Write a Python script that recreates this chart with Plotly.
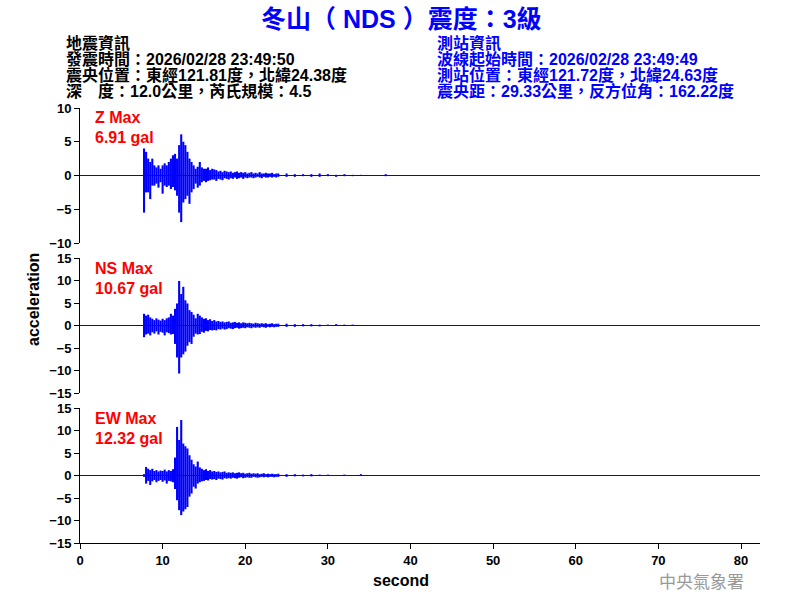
import plotly.graph_objects as go
from plotly.subplots import make_subplots

# ---------------- data ----------------
times = [7.75, 8.0, 8.25, 8.5, 8.75, 9.0, 9.25, 9.5, 9.75, 10.0, 10.25, 10.5,
         10.75, 11.0, 11.25, 11.5, 11.75, 12.0, 12.25, 12.5, 12.75, 13.0, 13.25,
         13.5, 13.75, 14.0, 14.25, 14.5, 14.75, 15.0, 15.25, 15.5, 15.75, 16.0,
         16.25, 16.5, 16.75, 17.0, 17.25, 17.5, 17.75, 18.0, 18.25, 18.5, 18.75,
         19.0, 19.25, 19.5, 19.75, 20.0, 20.25, 20.5, 20.75, 21.0, 21.25, 21.5,
         21.75, 22.0, 22.25, 22.5, 22.75, 23.0, 23.25, 23.5, 23.75, 24.0,
         25, 26, 27, 28, 29, 30, 31, 32, 33, 34, 35, 36, 37, 38]

z_hi = [4.0, 3.5, 2.5, 2.0, 2.5, 1.5, 1.2, 1.5, 1.0, 1.5, 1.8, 1.5, 2.0, 2.5, 3.0,
        3.2, 2.5, 4.5, 6.1, 5.0, 4.5, 3.5, 2.5, 2.0, 1.5, 1.0, 1.3, 2.0, 1.2, 1.0,
        1.0, 1.2, 0.8, 1.0,
        0.9, 0.8, 0.6, 0.7, 0.5, 0.7, 0.6, 0.5, 0.6, 0.4, 0.5, 0.6, 0.4, 0.5, 0.4, 0.5,
        0.3, 0.4, 0.5, 0.3, 0.4, 0.3, 0.5, 0.3, 0.3, 0.4, 0.3, 0.3, 0.4, 0.2, 0.3, 0.3,
        0.3, 0.2, 0.2, 0.2, 0.3, 0.2, 0.1, 0.2, 0.1, 0.1, 0.0, 0.0, 0.2, 0.0]
z_lo = [-5.5, -2.5, -2.5, -3.5, -1.5, -1.5, -1.2, -1.8, -1.0, -2.7, -1.5, -1.7,
        -1.5, -2.0, -1.7, -2.2, -3.0, -5.5, -6.91, -4.0, -3.5, -3.0, -4.2, -2.5,
        -2.0, -1.2, -1.8, -1.5, -1.0, -0.8, -1.0, -0.8, -0.7, -0.6,
        -0.6, -0.8, -0.5, -0.6, -0.7, -0.4, -0.5, -0.6, -0.4, -0.5, -0.3, -0.5,
        -0.4, -0.3, -0.5, -0.3, -0.4, -0.3, -0.3, -0.4, -0.3, -0.2, -0.3, -0.4,
        -0.2, -0.3, -0.3, -0.2, -0.3, -0.2, -0.3, -0.2,
        -0.2, -0.2, -0.1, -0.2, -0.2, -0.1, -0.2, -0.1, -0.1, 0.0, 0.0, 0.0, -0.1, 0.0]

ns_hi = [2.6, 2.2, 2.4, 1.8, 1.5, 1.2, 1.6, 1.3, 1.1, 1.5, 1.2, 1.6, 1.8, 2.6, 2.2,
         3.7, 4.9, 9.9, 7.0, 8.6, 5.6, 4.9, 3.4, 3.0, 2.4, 1.6, 2.6, 2.2, 1.8, 1.5,
         1.6, 1.2, 1.4, 1.0,
         1.2, 0.9, 1.0, 0.8, 0.9, 0.7, 0.8, 0.9, 0.6, 0.7, 0.8, 0.6, 0.7, 0.5, 0.7, 0.6,
         0.5, 0.6, 0.5, 0.4, 0.6, 0.5, 0.4, 0.5, 0.4, 0.5, 0.3, 0.4, 0.5, 0.3, 0.4, 0.4,
         0.4, 0.3, 0.3, 0.3, 0.2, 0.2, 0.3, 0.2, 0.2, 0.1, 0.0, 0.0, 0.0, 0.0]
ns_lo = [-2.6, -2.0, -1.8, -2.2, -1.5, -1.8, -1.3, -2.0, -1.4, -1.6, -2.2, -1.5,
         -1.7, -2.0, -1.9, -4.1, -7.1, -10.67, -7.1, -6.4, -5.8, -4.5, -3.7, -4.1,
         -2.5, -1.8, -2.0, -1.9, -1.4, -1.6, -1.2, -1.3, -1.0, -1.1,
         -1.0, -1.1, -0.8, -0.9, -0.7, -0.9, -0.8, -0.6, -0.7, -0.8, -0.6, -0.5,
         -0.7, -0.6, -0.5, -0.6, -0.4, -0.5, -0.6, -0.4, -0.5, -0.4, -0.5, -0.3,
         -0.4, -0.5, -0.3, -0.4, -0.3, -0.4, -0.3, -0.3,
         -0.3, -0.3, -0.2, -0.2, -0.2, -0.1, -0.1, -0.1, -0.1, 0.0, 0.0, 0.0, 0.0, 0.0]

ew_hi = [0.3, 1.9, 1.5, 1.2, 1.5, 1.0, 1.2, 0.9, 1.1, 1.0, 1.3, 0.9, 1.2, 1.0, 1.4,
         4.0, 10.8, 7.9, 12.32, 7.1, 6.5, 6.0, 4.5, 3.5, 2.5, 2.0, 3.1, 1.8, 1.5, 1.2,
         1.4, 1.0, 1.2, 0.9,
         1.0, 0.8, 0.9, 0.7, 0.8, 0.9, 0.6, 0.7, 0.6, 0.7, 0.5, 0.6, 0.7, 0.5, 0.6, 0.4,
         0.5, 0.6, 0.4, 0.5, 0.4, 0.5, 0.3, 0.4, 0.5, 0.3, 0.4, 0.3, 0.4, 0.3, 0.3, 0.4,
         0.3, 0.3, 0.2, 0.3, 0.2, 0.2, 0.1, 0.2, 0.1, 0.3, 0.0, 0.0, 0.0, 0.0]
ew_lo = [-0.3, -1.8, -1.2, -2.1, -1.3, -1.0, -1.5, -1.2, -1.0, -1.4, -1.1, -1.8,
         -1.2, -1.3, -1.5, -3.0, -5.5, -7.7, -8.8, -8.0, -7.5, -7.0, -4.7, -4.0,
         -2.5, -2.9, -1.8, -1.5, -1.3, -1.2, -1.0, -1.1, -0.8, -0.9,
         -0.8, -1.0, -0.7, -0.8, -0.9, -0.6, -0.7, -0.6, -0.7, -0.5, -0.6, -0.7,
         -0.5, -0.4, -0.6, -0.5, -0.4, -0.5, -0.5, -0.3, -0.4, -0.5, -0.4, -0.3,
         -0.4, -0.3, -0.4, -0.3, -0.3, -0.4, -0.3, -0.3,
         -0.3, -0.2, -0.2, -0.2, -0.1, -0.1, -0.1, -0.1, 0.0, 0.0, 0.0, 0.0, 0.0, 0.0]

channels = ["Z", "NS", "EW"]
max_labels = ["6.91 gal", "10.67 gal", "12.32 gal"]
y_ranges = [[-10, 10], [-15, 15], [-15, 15]]
y_ticks = [[-10, -5, 0, 5, 10], [-15, -10, -5, 0, 5, 10, 15], [-15, -10, -5, 0, 5, 10, 15]]
x_ticks = [0, 10, 20, 30, 40, 50, 60, 70, 80]
x_end = 82.3

title_text = "冬山（ NDS ）震度：3級"
left_info = ["地震資訊", "發震時間：2026/02/28 23:49:50",
             "震央位置：東經121.81度，北緯24.38度", "深　度：12.0公里，芮氏規模：4.5"]
right_info = ["測站資訊", "波線起始時間：2026/02/28 23:49:49",
              "測站位置：東經121.72度，北緯24.63度", "震央距：29.33公里，反方位角：162.22度"]

series = [(z_hi, z_lo), (ns_hi, ns_lo), (ew_hi, ew_lo)]
for hi, lo in series:
    assert len(hi) == len(times) and len(lo) == len(times), (len(hi), len(lo), len(times))

# ---------------- figure ----------------
FONT = "Liberation Sans, Arial, Noto Sans CJK TC, sans-serif"
BLUE = "#0000ff"

fig = make_subplots(rows=3, cols=1, shared_xaxes=True)

def segs(hi, lo):
    xs, ys = [], []
    for t, h, l in zip(times, hi, lo):
        xs += [t, t, None]
        ys += [l, h, None]
    return xs, ys

for i, (hi, lo) in enumerate(series):
    r = i + 1
    fig.add_trace(go.Scatter(x=[0, x_end], y=[0, 0], mode="lines",
                             line=dict(color=BLUE, width=1), hoverinfo="skip",
                             showlegend=False), row=r, col=1)
    xs, ys = segs(hi, lo)
    fig.add_trace(go.Scatter(x=xs, y=ys, mode="lines",
                             line=dict(color=BLUE, width=2.1), hoverinfo="skip",
                             showlegend=False, connectgaps=False), row=r, col=1)

# screen pixel -> paper helpers (plot area: x 80..760, y 108..543)
def px(x):
    return (x - 80) / 680.0

def py(y):
    return (543 - y) / 435.0

domains = [[py(243), 1.0], [py(393), py(258)], [0.0, py(408)]]
tickfont = dict(family=FONT, size=13, color="black", weight="bold")
for i in range(3):
    yk = "yaxis" if i == 0 else f"yaxis{i+1}"
    fig.layout[yk].update(domain=domains[i], range=y_ranges[i], tickvals=y_ticks[i],
                          showline=True, linecolor="black", linewidth=1,
                          ticks="outside", ticklen=5, tickcolor="black",
                          showgrid=False, zeroline=False, tickfont=tickfont,
                          fixedrange=True)
    xk = "xaxis" if i == 0 else f"xaxis{i+1}"
    last = (i == 2)
    fig.layout[xk].update(range=[0, x_end], showgrid=False, zeroline=False,
                          showline=last, linecolor="black", linewidth=1,
                          ticks="outside" if last else "", ticklen=5,
                          tickcolor="black", tickvals=x_ticks,
                          showticklabels=last, tickfont=tickfont, fixedrange=True)

ann = []
ann.append(dict(text=title_text, x=px(401), y=py(19), xref="paper", yref="paper",
                showarrow=False, xanchor="center", yanchor="middle",
                font=dict(family=FONT, size=25, color=BLUE, weight="bold")))
line_y = [43, 59, 75, 91]
for txt, yy in zip(left_info, line_y):
    ann.append(dict(text=txt, x=px(64), y=py(yy), xref="paper", yref="paper",
                    showarrow=False, xanchor="left", yanchor="middle",
                    font=dict(family=FONT, size=16, color="black", weight="bold")))
for txt, yy in zip(right_info, line_y):
    ann.append(dict(text=txt, x=px(435), y=py(yy), xref="paper", yref="paper",
                    showarrow=False, xanchor="left", yanchor="middle",
                    font=dict(family=FONT, size=16, color=BLUE, weight="bold")))
lab_y = [(118, 137), (268, 288), (418, 438)]
for ch, ml, (y1, y2) in zip(channels, max_labels, lab_y):
    ann.append(dict(text=f"{ch} Max", x=px(93), y=py(y1), xref="paper", yref="paper",
                    showarrow=False, xanchor="left", yanchor="middle",
                    font=dict(family=FONT, size=16, color="#ff0000", weight="bold")))
    ann.append(dict(text=ml, x=px(93), y=py(y2), xref="paper", yref="paper",
                    showarrow=False, xanchor="left", yanchor="middle",
                    font=dict(family=FONT, size=16, color="#ff0000", weight="bold")))
ann.append(dict(text="acceleration", x=px(33), y=py(300), xref="paper", yref="paper",
                showarrow=False, textangle=-90, xanchor="center", yanchor="middle",
                font=dict(family=FONT, size=16, color="black", weight="bold")))
ann.append(dict(text="second", x=px(401), y=py(580), xref="paper", yref="paper",
                showarrow=False, xanchor="center", yanchor="middle",
                font=dict(family=FONT, size=16, color="black", weight="bold")))
ann.append(dict(text="中央氣象署", x=px(701), y=py(580), xref="paper", yref="paper",
                showarrow=False, xanchor="center", yanchor="middle",
                font=dict(family="Noto Sans CJK TC, sans-serif", size=17,
                          color="#999999", weight="normal")))

fig.update_layout(width=800, height=600, annotations=ann,
                  margin=dict(l=80, r=40, t=108, b=57),
                  paper_bgcolor="white", plot_bgcolor="white",
                  showlegend=False)

fig.write_html("out.html", config={"displayModeBar": False, "staticPlot": True},
               post_script="document.body.style.margin='0px';document.body.style.overflow='hidden';")
